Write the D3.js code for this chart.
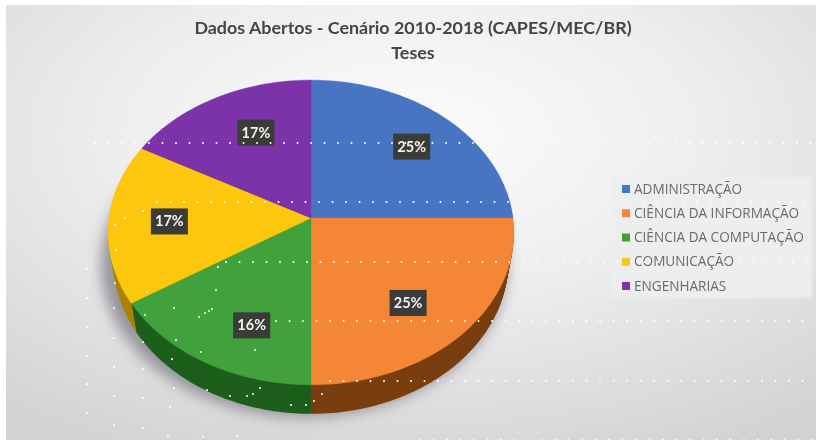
<!DOCTYPE html>
<html>
<head>
<meta charset="utf-8">
<script src="https://cdn.jsdelivr.net/npm/d3@7"></script>
<style>
  html, body { margin: 0; padding: 0; background: #fff; overflow: hidden; }
  svg { display: block; }
</style>
</head>
<body>
<div id="wrapper"></div>
<script>
// data
const categories = ["ADMINISTRAÇÃO", "CIÊNCIA DA INFORMAÇÃO", "CIÊNCIA DA COMPUTAÇÃO", "COMUNICAÇÃO", "ENGENHARIAS"];
const shares = [25, 25, 16, 17, 17];
const titleLines = ["Dados Abertos - Cenário 2010-2018 (CAPES/MEC/BR)", "Teses"];

const topColors = ["#4674c4", "#f58634", "#3fa13d", "#fdc70c", "#7b33a8"];
const sideColors = ["#2a4576", "#7a3f12", "#1c5e1c", "#a98306", "#4a1f66"];

const width = 816, height = 443;
const svg = d3.select("#wrapper").append("svg").attr("width", width).attr("height", height);
const defs = svg.append("defs");

// background
const bg = defs.append("radialGradient").attr("id", "bg").attr("cx", "0.5").attr("cy", "0.3").attr("r", "0.8");
bg.append("stop").attr("offset", "0").attr("stop-color", "#fcfcfc");
bg.append("stop").attr("offset", "0.45").attr("stop-color", "#eeeeee");
bg.append("stop").attr("offset", "1").attr("stop-color", "#d3d3d3");

defs.append("filter").attr("id", "soft").append("feGaussianBlur").attr("stdDeviation", 0.7);
defs.append("filter").attr("id", "edge").append("feGaussianBlur").attr("stdDeviation", 1.4);
defs.append("filter").attr("id", "shadow")
  .attr("x", "-20%").attr("y", "-20%").attr("width", "140%").attr("height", "140%")
  .append("feGaussianBlur").attr("stdDeviation", 7);

svg.append("rect").attr("width", width).attr("height", height).attr("fill", "#fff");
svg.append("rect").attr("x", 6).attr("y", 5).attr("width", width - 6).attr("height", height - 8).attr("fill", "url(#bg)");
svg.append("line").attr("x1", 6).attr("x2", width).attr("y1", 5).attr("y2", 5)
  .attr("stroke", "#4f6f96").attr("stroke-width", 2).attr("filter", "url(#edge)");
svg.append("line").attr("x1", 10).attr("x2", 10).attr("y1", 5).attr("y2", height - 3)
  .attr("stroke", "#b4c4d8").attr("stroke-width", 6).attr("filter", "url(#edge)");
svg.append("line").attr("x1", 6).attr("x2", width).attr("y1", 437).attr("y2", 437)
  .attr("stroke", "#eef2ee").attr("stroke-width", 3).attr("filter", "url(#edge)");

// title
svg.append("g").attr("filter", "url(#soft)").selectAll("text")
  .data(titleLines).join("text")
  .attr("x", 413)
  .attr("y", (d, i) => 34 + i * 25)
  .attr("text-anchor", "middle")
  .attr("font-family", "Lato")
  .attr("font-weight", 700)
  .attr("font-size", 17.9)
  .attr("fill", "#444")
  .text(d => d);

// pie in perspective: the apex sits above the centre of the outline
const cx = 311, cy = 218, tilt = 0.095;
const xScale = d3.scaleLinear().domain([-1, 1]).range([cx - 202, cx + 202]);
const yScale = d3.scaleLinear().domain([-1, 1]).range([cy - 151, cy + 151]);
const project = (angle, r) => {
  const ux = r * Math.sin(angle), uy = -r * Math.cos(angle);
  const w = 1 - tilt * uy;
  return [xScale(ux / w), yScale(uy / w)];
};

const pie = d3.pie().sort(null).value(d => d);
const arcs = pie(shares);
const line = d3.line();
const slicePath = d => {
  const n = Math.max(8, Math.ceil((d.endAngle - d.startAngle) * 40));
  const rim = d3.range(n + 1).map(i => project(d.startAngle + (d.endAngle - d.startAngle) * i / n, 1));
  return line([project(0, 0), ...rim]) + "Z";
};

const pieG = svg.append("g");
const depth = 29;

// soft shadow under the pie
pieG.append("g")
  .attr("transform", `translate(-7,${depth + 3})`)
  .attr("filter", "url(#shadow)")
  .selectAll("path").data(arcs).join("path")
  .attr("d", slicePath).attr("fill", "#85858f").attr("opacity", 0.85);

// side wall: same slices pushed down and narrowed, with the sweep between them filled
const sideG = pieG.append("g").attr("filter", "url(#soft)");
d3.range(depth, 0, -1).forEach(step => {
  const s = 1 - 0.028 * step / depth;
  sideG.append("g")
    .attr("transform", `translate(${cx},${step}) scale(${s},1) translate(${-cx},0)`)
    .selectAll("path").data(arcs).join("path")
    .attr("d", slicePath)
    .attr("fill", (d, i) => sideColors[i]);
});

// top face
pieG.append("g").attr("filter", "url(#soft)")
  .selectAll("path").data(arcs).join("path")
  .attr("d", slicePath)
  .attr("fill", (d, i) => topColors[i])
  .attr("stroke", (d, i) => topColors[i])
  .attr("stroke-width", 0.4);

// data labels
const labelRadiusX = [0.74, 0.65, 0.58, 0.70, 0.56];
const labelRadiusY = [0.70, 0.755, 0.76, 0.72, 0.695];
const labelG = svg.append("g").attr("filter", "url(#soft)");
arcs.forEach((d, i) => {
  const mid = (d.startAngle + d.endAngle) / 2;
  const px = project(mid, labelRadiusX[i])[0];
  const py = project(mid, labelRadiusY[i])[1];
  labelG.append("rect")
    .attr("x", px - 18.5).attr("y", py - 13).attr("width", 37).attr("height", 26)
    .attr("fill", "#3a3a38");
  labelG.append("text")
    .attr("x", px).attr("y", py + 5)
    .attr("text-anchor", "middle")
    .attr("font-family", "Lato").attr("font-weight", 700).attr("font-size", 14.5)
    .attr("fill", "#f4f4f4")
    .text(d.data + "%");
});

// legend
svg.append("rect").attr("x", 612).attr("y", 177).attr("width", 200).attr("height", 121)
  .attr("fill", "#eeeeee").attr("filter", "url(#edge)");
const legendY = d3.scalePoint().domain(categories).range([189, 286]);
const legend = svg.append("g").attr("filter", "url(#soft)");
legend.selectAll("rect").data(categories).join("rect")
  .attr("x", 622).attr("y", d => legendY(d) - 4).attr("width", 8).attr("height", 8)
  .attr("fill", (d, i) => topColors[i]);
legend.selectAll("text").data(categories).join("text")
  .attr("x", 634).attr("y", d => legendY(d) + 4.5)
  .attr("font-family", "Open Sans").attr("font-size", 13.6)
  .attr("fill", "#6a6a6a")
  .text(d => d);

// white dotted lines over the picture
const dotRows = [143, 202, 262, 321, 381, 440];
const dotRowStart = [95, 157, 226, 276, 330, 420];
const dotPitch = 13.5;
const dots = svg.append("g").attr("fill", "#fff");
dotRows.forEach((y, i) => {
  dots.selectAll(null).data(d3.range(dotRowStart[i], width, dotPitch)).join("circle")
    .attr("cx", d => d).attr("cy", y).attr("r", 1);
});
const looseDots = [[125, 218], [143, 211], [115, 225], [116, 250],
  [87, 269], [87, 298], [87, 327], [87, 356], [87, 384], [87, 413], [87, 441],
  [114, 308], [114, 338], [114, 367], [114, 396], [114, 425], [115, 283],
  [143, 342], [143, 369], [143, 398], [143, 428], [147, 292], [145, 315],
  [174, 308], [176, 340], [172, 359], [174, 388], [170, 407], [168, 436], [203, 437], [237, 436],
  [199, 317], [205, 313], [209, 311], [212, 309], [216, 290], [218, 267], [201, 352], [255, 350],
  [207, 390], [230, 396], [247, 396], [253, 394], [260, 388], [291, 405], [306, 405], [314, 401], [322, 394]];
dots.selectAll(null).data(looseDots).join("circle")
  .attr("cx", d => d[0]).attr("cy", d => d[1]).attr("r", 1);
</script>
</body>
</html>
